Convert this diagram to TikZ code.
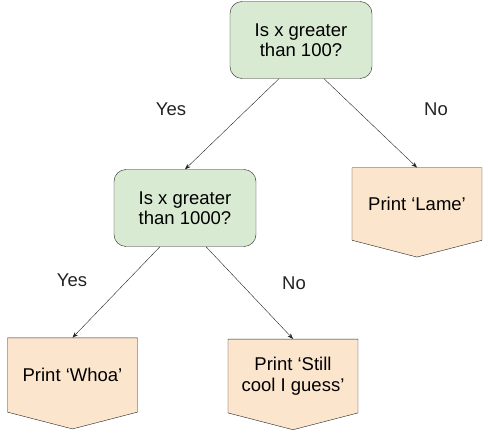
\documentclass[tikz,border=0pt]{standalone}
\usepackage{fontspec}
\setmainfont{Liberation Sans}
\usetikzlibrary{shapes.symbols, arrows.meta}
\definecolor{askfill}{HTML}{D9EAD3}
\definecolor{printfill}{HTML}{FCE5CD}
\definecolor{inkgray}{HTML}{222222}
\tikzset{
    ask/.style={draw=inkgray, rounded corners=12pt, fill=askfill, minimum width=142pt, minimum height=77pt, align=center, font=\fontsize{18.5}{20.5}\selectfont},
    printbox/.style={draw=inkgray, signal, signal to=south, signal from=nowhere, signal pointer angle=151, fill=printfill, minimum width=130pt, minimum height=88pt, align=center, font=\fontsize{18.5}{20.5}\selectfont},
    answer/.style={font=\fontsize{18.5}{20.5}\selectfont, text=inkgray},
    link/.style={draw=inkgray, -{Stealth[length=2mm]}}
}

\begin{document}
\begin{tikzpicture}[x=1pt, y=-1pt]
    \useasboundingbox (0,0) rectangle (488,433);
    \node[ask] (big) at (301,40) {Is x greater\\than 100?};
    \node[ask] (huge) at (185,208) {Is x greater\\than 1000?};
    \node[printbox, minimum height=86pt] (lame) at (417,204) {Print ‘Lame’};
    \node[printbox] (whoa) at (72.5,375) {Print ‘Whoa’};
    \node[printbox] (still) at (293,376) {Print ‘Still\\cool I guess’};
    \draw[link] ([xshift=-22pt]big.south) -- (huge.north);
    \draw[link] ([xshift=23pt]big.south) -- (lame.north);
    \draw[link] ([xshift=-25pt]huge.south) -- (whoa.north);
    \draw[link] ([xshift=21pt]huge.south) -- (still.north);
    \node[answer] (yes1) at (171,109) {Yes};
    \node[answer] (no1) at (436,109) {No};
    \node[answer] (yes2) at (72,280) {Yes};
    \node[answer] (no2) at (294,283) {No};
\end{tikzpicture}
\end{document}
